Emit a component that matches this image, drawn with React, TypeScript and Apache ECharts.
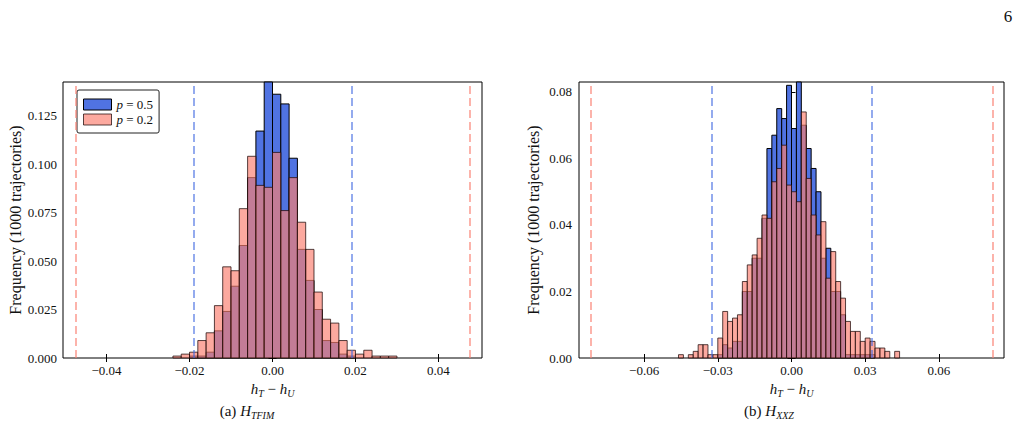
import { useEffect, useRef } from "react";
import * as echarts from "echarts";

const FONT = "'Liberation Serif', 'DejaVu Serif', serif";
const BIN_WIDTH = 0.002;

// ---- (a) H_TFIM : h_T - h_U histograms ----
const tfimBinStarts = [
  -0.024, -0.022, -0.02, -0.018, -0.016, -0.014, -0.012, -0.01, -0.008, -0.006,
  -0.004, -0.002, 0.0, 0.002, 0.004, 0.006, 0.008, 0.01, 0.012, 0.014,
  0.016, 0.018, 0.02, 0.022, 0.024, 0.026, 0.028,
];
const tfimP05 = [
  0, 0, 0.001, 0.001, 0.003, 0.014, 0.024, 0.037, 0.058, 0.093,
  0.117, 0.146, 0.136, 0.131, 0.103, 0.056, 0.04, 0.025, 0.009, 0.008,
  0.002, 0.001, 0, 0, 0, 0, 0,
];
const tfimP02 = [
  0.001, 0.002, 0.003, 0.009, 0.013, 0.027, 0.047, 0.045, 0.077, 0.104,
  0.089, 0.088, 0.106, 0.076, 0.093, 0.07, 0.056, 0.034, 0.02, 0.018,
  0.009, 0.004, 0.002, 0.004, 0.001, 0.001, 0.001,
];
const tfimBoundP05 = [-0.019, 0.019];
const tfimBoundP02 = [-0.0475, 0.0475];
const tfimXRange = [-0.0505, 0.0505];
const tfimYMax = 0.1423;
const tfimXTicks = [-0.04, -0.02, 0, 0.02, 0.04];
const tfimYTicks = [0, 0.025, 0.05, 0.075, 0.1, 0.125];

// ---- (b) H_XXZ : h_T - h_U histograms ----
const xxzBinStarts = [
  -0.046, -0.044, -0.042, -0.04, -0.038, -0.036, -0.034, -0.032, -0.03, -0.028,
  -0.026, -0.024, -0.022, -0.02, -0.018, -0.016, -0.014, -0.012, -0.01, -0.008,
  -0.006, -0.004, -0.002, 0.0, 0.002, 0.004, 0.006, 0.008, 0.01, 0.012,
  0.014, 0.016, 0.018, 0.02, 0.022, 0.024, 0.026, 0.028, 0.03, 0.032,
  0.034, 0.036, 0.038, 0.04, 0.042,
];
const xxzP05 = [
  0, 0, 0, 0, 0, 0, 0, 0, 0.001, 0.004,
  0.003, 0.005, 0.005, 0.02, 0.02, 0.03, 0.03, 0.042, 0.063, 0.067,
  0.075, 0.072, 0.082, 0.069, 0.088, 0.07, 0.063, 0.057, 0.05, 0.03,
  0.033, 0.02, 0.02, 0.013, 0.001, 0.001, 0.001, 0.001, 0.001, 0.001,
  0, 0, 0, 0, 0,
];
const xxzP02 = [
  0.001, 0, 0.001, 0.002, 0.004, 0.004, 0.001, 0.001, 0.006, 0.014,
  0.011, 0.012, 0.013, 0.023, 0.028, 0.031, 0.036, 0.043, 0.042, 0.053,
  0.057, 0.064, 0.052, 0.05, 0.047, 0.074, 0.054, 0.043, 0.037, 0.041,
  0.024, 0.032, 0.023, 0.018, 0.011, 0.008, 0.008, 0.005, 0.006, 0.005,
  0.003, 0.003, 0.002, 0, 0.002,
];
const xxzBoundP05 = [-0.0325, 0.0325];
const xxzBoundP02 = [-0.0818, 0.0818];
const xxzXRange = [-0.0865, 0.0865];
const xxzYMax = 0.083;
const xxzXTicks = [-0.06, -0.03, 0, 0.03, 0.06];
const xxzYTicks = [0, 0.02, 0.04, 0.06, 0.08];

const SERIES_P05 = "p = 0.5";
const SERIES_P02 = "p = 0.2";

const BLUE_FILL = "rgb(80,115,226)";
const BLUE_EDGE = "#000";
const RED_FILL = "rgba(250,128,114,0.68)";
const RED_EDGE = "rgba(30,10,10,0.75)";
const BLUE_DASH = "rgba(65,105,225,0.7)";
const RED_DASH = "rgba(250,128,114,0.75)";

const fmt = (digits: number) => (v: number) => {
  const s = Math.abs(v).toFixed(digits);
  return v < -1e-12 ? "\u2212" + s : s;
};

function histData(starts: number[], values: number[]) {
  return starts
    .map((s, i) => [s, s + BIN_WIDTH, values[i]])
    .filter((d) => d[2] > 0);
}

function histRenderer(fill: string, stroke: string, lineWidth: number) {
  return (params: any, api: any) => {
    const x0 = api.value(0);
    const x1 = api.value(1);
    const h = api.value(2);
    const a = api.coord([x0, h]);
    const b = api.coord([x1, 0]);
    const cs = params.coordSys;
    const shape = echarts.graphic.clipRectByRect(
      { x: a[0], y: a[1], width: b[0] - a[0], height: b[1] - a[1] },
      { x: cs.x, y: cs.y, width: cs.width, height: cs.height }
    );
    if (!shape) return null;
    return {
      type: "rect",
      shape,
      style: { fill, stroke, lineWidth },
    };
  };
}

const textColor = "#111";

const subRich = {
  i: { fontFamily: FONT, fontStyle: "italic", fontSize: 15, color: textColor },
  s: {
    fontFamily: FONT,
    fontStyle: "italic",
    fontSize: 10,
    color: textColor,
    padding: [9, 0, 0, 0],
  },
  n: { fontFamily: FONT, fontSize: 15, color: textColor },
};

function xAxesFor(grid: number, range: number[], ticks: number[]) {
  return [
    {
      type: "value",
      gridIndex: grid,
      position: "bottom",
      min: range[0],
      max: range[1],
      axisLine: { show: false },
      splitLine: { show: false },
      axisTick: {
        inside: true,
        length: 4,
        customValues: ticks,
        lineStyle: { color: "#000", width: 1 },
      },
      axisLabel: {
        customValues: ticks,
        formatter: fmt(2),
        margin: 6,
        color: textColor,
        fontFamily: FONT,
        fontSize: 13,
      },
      name: "{i|h}{s|T}{n| \u2212 }{i|h}{s|U}",
      nameLocation: "middle",
      nameGap: 15,
      nameTextStyle: { rich: subRich },
    },
    {
      type: "value",
      gridIndex: grid,
      position: "top",
      min: range[0],
      max: range[1],
      axisLine: { show: false },
      splitLine: { show: false },
      axisTick: {
        inside: true,
        length: 4,
        customValues: ticks,
        lineStyle: { color: "#000", width: 1 },
      },
      axisLabel: { show: false },
    },
  ];
}

function yAxesFor(
  grid: number,
  max: number,
  ticks: number[],
  digits: number,
  margin: number,
  nameGap: number
) {
  return [
    {
      type: "value",
      gridIndex: grid,
      position: "left",
      min: 0,
      max,
      axisLine: { show: false },
      splitLine: { show: false },
      axisTick: {
        inside: true,
        length: 4,
        customValues: ticks,
        lineStyle: { color: "#000", width: 1 },
      },
      axisLabel: {
        customValues: ticks,
        formatter: fmt(digits),
        margin,
        color: textColor,
        fontFamily: FONT,
        fontSize: 13,
      },
      name: "Frequency (1000 trajectories)",
      nameLocation: "middle",
      nameRotate: 90,
      nameGap,
      nameTextStyle: { fontFamily: FONT, fontSize: 16, color: textColor },
    },
    {
      type: "value",
      gridIndex: grid,
      position: "right",
      min: 0,
      max,
      axisLine: { show: false },
      splitLine: { show: false },
      axisTick: {
        inside: true,
        length: 4,
        customValues: ticks,
        lineStyle: { color: "#000", width: 1 },
      },
      axisLabel: { show: false },
    },
  ];
}

function boundLines(
  xAxisIndex: number,
  yAxisIndex: number,
  p05: number[],
  p02: number[]
) {
  return {
    type: "line",
    name: "bounds",
    xAxisIndex,
    yAxisIndex,
    data: [],
    silent: true,
    z: 5,
    markLine: {
      silent: true,
      precision: 6,
      symbol: ["none", "none"],
      label: { show: false },
      emphasis: { disabled: true },
      data: [
        ...p05.map((v) => ({
          xAxis: v,
          lineStyle: { color: BLUE_DASH, width: 1.6, type: [8, 4] },
        })),
        ...p02.map((v) => ({
          xAxis: v,
          lineStyle: { color: RED_DASH, width: 1.6, type: [8, 4] },
        })),
      ],
    },
  };
}

function histSeries(
  name: string,
  xAxisIndex: number,
  yAxisIndex: number,
  starts: number[],
  values: number[],
  fill: string,
  stroke: string,
  z: number
) {
  return {
    type: "custom",
    name,
    xAxisIndex,
    yAxisIndex,
    z,
    itemStyle: { color: fill },
    encode: { x: [0, 1], y: 2 },
    renderItem: histRenderer(fill, stroke, 1),
    data: histData(starts, values),
  };
}

export default function App() {
  const ref = useRef<HTMLDivElement>(null);

  useEffect(() => {
    if (!ref.current) return;
    const chart = echarts.init(ref.current, undefined, { renderer: "svg" });

    const option: any = {
      animation: false,
      backgroundColor: "#fff",
      grid: [
        {
          left: 63,
          top: 82,
          width: 419,
          height: 276,
          show: true,
          borderColor: "#000",
          borderWidth: 1,
        },
        {
          left: 579,
          top: 82,
          width: 425,
          height: 276,
          show: true,
          borderColor: "#000",
          borderWidth: 1,
        },
      ],
      xAxis: [
        ...xAxesFor(0, tfimXRange, tfimXTicks),
        ...xAxesFor(1, xxzXRange, xxzXTicks),
      ],
      yAxis: [
        ...yAxesFor(0, tfimYMax, tfimYTicks, 3, 6, 40),
        ...yAxesFor(1, xxzYMax, xxzYTicks, 2, 7, 38),
      ],
      legend: {
        left: 77,
        top: 90,
        orient: "vertical",
        itemWidth: 28,
        itemHeight: 11,
        itemGap: 2,
        padding: [8, 6, 7, 6],
        borderColor: "#222",
        borderWidth: 1,
        borderRadius: 2,
        backgroundColor: "#fff",
        selectedMode: false,
        textStyle: {
          fontFamily: FONT,
          fontSize: 13,
          color: textColor,
          lineHeight: 11,
          rich: {
            i: { fontFamily: FONT, fontStyle: "italic", fontSize: 13, color: textColor },
          },
        },
        formatter: (name: string) => name.replace("p", "{i|p}"),
        data: [
          {
            name: SERIES_P05,
            icon: "rect",
            itemStyle: { color: BLUE_FILL, borderColor: BLUE_EDGE, borderWidth: 1 },
          },
          {
            name: SERIES_P02,
            icon: "rect",
            itemStyle: { color: RED_FILL, borderColor: RED_EDGE, borderWidth: 1 },
          },
        ],
      },
      series: [
        histSeries(SERIES_P05, 0, 0, tfimBinStarts, tfimP05, BLUE_FILL, BLUE_EDGE, 2),
        histSeries(SERIES_P02, 0, 0, tfimBinStarts, tfimP02, RED_FILL, RED_EDGE, 3),
        boundLines(0, 0, tfimBoundP05, tfimBoundP02),
        histSeries(SERIES_P05, 2, 2, xxzBinStarts, xxzP05, BLUE_FILL, BLUE_EDGE, 2),
        histSeries(SERIES_P02, 2, 2, xxzBinStarts, xxzP02, RED_FILL, RED_EDGE, 3),
        boundLines(2, 2, xxzBoundP05, xxzBoundP02),
      ],
      graphic: [
        {
          type: "text",
          x: 1008,
          y: 16,
          style: {
            text: "6",
            fontFamily: FONT,
            fontSize: 17,
            fill: textColor,
            align: "center",
            verticalAlign: "middle",
          },
        },
        {
          type: "text",
          x: 247,
          y: 411,
          style: {
            text: "(a) {i|H}{s|TFIM}",
            fontFamily: FONT,
            fontSize: 15,
            fill: textColor,
            align: "center",
            verticalAlign: "middle",
            rich: subRich,
          },
        },
        {
          type: "text",
          x: 769,
          y: 411,
          style: {
            text: "(b) {i|H}{s|XXZ}",
            fontFamily: FONT,
            fontSize: 15,
            fill: textColor,
            align: "center",
            verticalAlign: "middle",
            rich: subRich,
          },
        },
      ],
    };

    chart.setOption(option);
    return () => chart.dispose();
  }, []);

  return (
    <div
      ref={ref}
      style={{ position: "absolute", left: 0, top: 0, width: 1026, height: 428 }}
    />
  );
}
